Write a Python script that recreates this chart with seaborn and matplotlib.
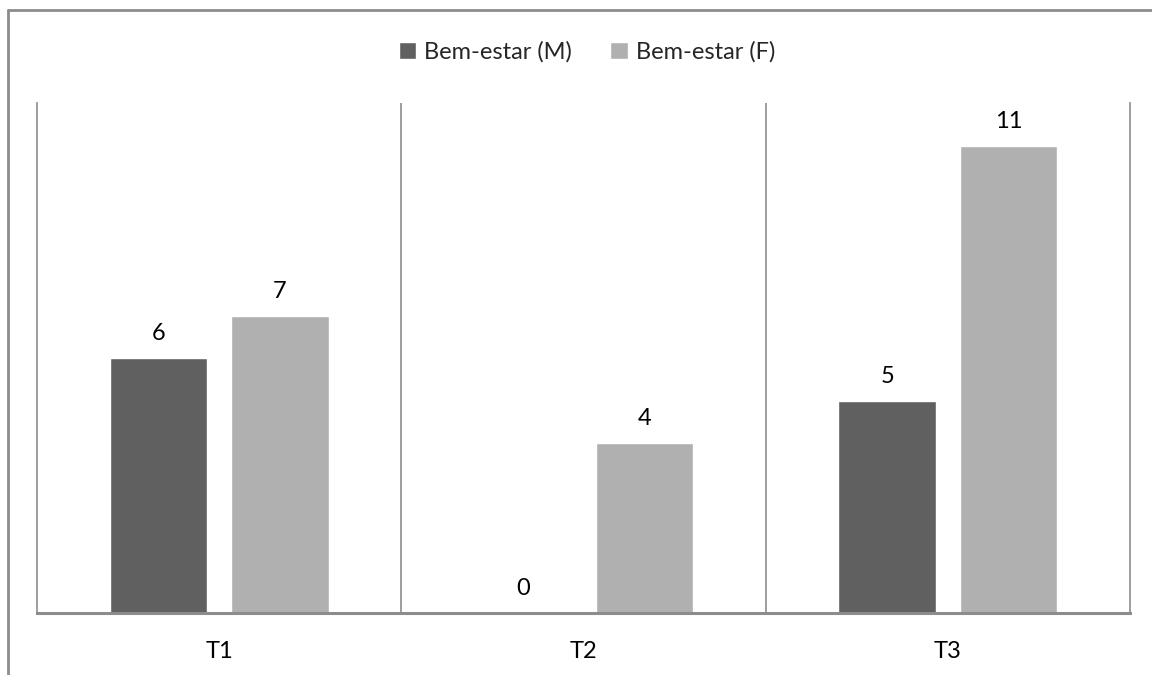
import matplotlib
matplotlib.use("Agg")
import matplotlib.pyplot as plt
from matplotlib.lines import Line2D
import seaborn as sns
import pandas as pd

categories = ["T1", "T2", "T3"]
series_names = ["Bem-estar (M)", "Bem-estar (F)"]
values_m = [6, 0, 5]
values_f = [7, 4, 11]

df = pd.DataFrame({
    "tempo": categories * 2,
    "serie": [series_names[0]] * 3 + [series_names[1]] * 3,
    "valor": values_m + values_f,
})

sns.set_theme(style="white")
plt.rcParams["font.family"] = ["Lato", "DejaVu Sans"]

FS = 17
fig = plt.figure(figsize=(11.52, 6.75), dpi=100)
ax = fig.add_axes([37 / 1152, 62 / 675, (1130 - 37) / 1152, (613 - 103) / 675])

palette = {series_names[0]: "#606060", series_names[1]: "#b0b0b0"}
sns.barplot(data=df, x="tempo", y="valor", hue="serie", palette=palette,
            width=0.667, gap=0.2, ax=ax, legend=True, saturation=1)

ax.set_xlim(-0.5, 2.5)
ax.set_ylim(0, 12)
ax.set_xlabel("")
ax.set_ylabel("")
ax.set_yticks([])
ax.tick_params(axis="x", length=0, pad=20, labelsize=FS, labelcolor="black")

line_col = "#8c8c8c"
for side in ["left", "right", "bottom"]:
    ax.spines[side].set_visible(True)
    ax.spines[side].set_color(line_col)
    ax.spines[side].set_linewidth(1.2)
ax.spines["top"].set_visible(False)
ax.spines["bottom"].set_linewidth(2.2)
for xv in [0.5, 1.5]:
    ax.axvline(xv, color=line_col, linewidth=1.2, zorder=0)

for container in ax.containers:
    ax.bar_label(container, labels=[f"{v:g}" for v in container.datavalues],
                 padding=10, fontsize=FS, color="black")

handles, labels = ax.get_legend_handles_labels()
ax.legend(handles, labels, loc="center", ncol=2,
          frameon=False, fontsize=FS, handlelength=0.75, handleheight=0.75,
          handletextpad=0.35, columnspacing=1.6)
leg = ax.get_legend()
leg.set_bbox_to_anchor((0.5 + 11 / 1152, 1 - 52 / 675), transform=fig.transFigure)

# outer frame edges
fig.add_artist(Line2D([8 / 1152, 1.0], [1 - 10 / 675, 1 - 10 / 675],
                      transform=fig.transFigure, color="#8c8c8c", linewidth=2))
fig.add_artist(Line2D([8 / 1152, 8 / 1152], [0, 1 - 10 / 675],
                      transform=fig.transFigure, color="#8c8c8c", linewidth=2))

fig.savefig("out.png", dpi=100)
